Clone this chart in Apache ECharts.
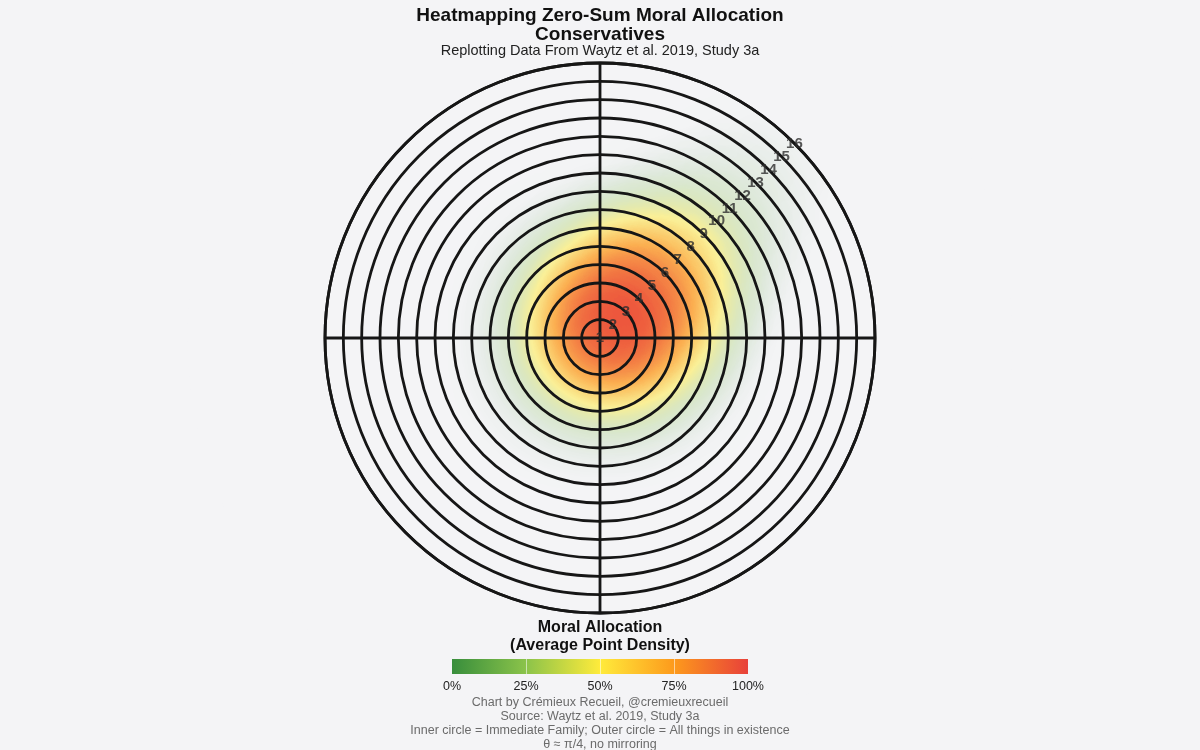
<!DOCTYPE html>
<html>
<head>
<meta charset="utf-8">
<script src="https://cdn.jsdelivr.net/npm/echarts@6/dist/echarts.min.js"></script>
<style>
  html, body { margin: 0; padding: 0; background: #f4f4f6; }
  #chart { width: 1200px; height: 750px; }
</style>
</head>
<body>
<div id="chart"></div>
<script>
// ---------- data ----------
const TITLE = 'Heatmapping Zero-Sum Moral Allocation';
const GROUP = 'Conservatives';
const SUBTITLE = 'Replotting Data From Waytz et al. 2019, Study 3a';
const LEGEND_TITLE = ['Moral Allocation', '(Average Point Density)'];
const LEVELS = [1, 2, 3, 4, 5, 6, 7, 8, 9, 10, 11, 12, 13, 14, 15, 16];
// average points allocated to each moral circle
const ALLOCATION = [17, 23, 22, 13.5, 7.5, 5, 3.5, 2.6, 1.8, 1.3, 0.9, 0.7, 0.5, 0.35, 0.25, 0.2];
const THETA_DEG = 45;   // all points placed at theta = pi/4
const LEGEND_TICKS = [0, 25, 50, 75, 100];
const PALETTE = ['#388E3C', '#8BC34A', '#FFEB3B', '#FD9A1C', '#E8413A'];
const CAPTIONS = [
  'Chart by Crémieux Recueil, @cremieuxrecueil',
  'Source: Waytz et al. 2019, Study 3a',
  'Inner circle = Immediate Family; Outer circle = All things in existence',
  'θ ≈ π/4, no mirroring'
];

// ---------- layout ----------
const BG = '#f4f4f6';
const FONT = 'Liberation Sans, Arial, Helvetica, sans-serif';
const CX = 600, CY = 338, R = 275;
const LINE = '#161616';

const minLevel = LEVELS[0], maxLevel = LEVELS[LEVELS.length - 1];
const span = maxLevel - minLevel;

// a square "map" that spans the polar disc, used as a canvas for the density layer
echarts.registerMap('disc', {
  type: 'FeatureCollection',
  features: [{
    type: 'Feature', properties: { name: 'disc' },
    geometry: { type: 'Polygon', coordinates: [[[-span, -span], [span, -span], [span, span], [-span, span], [-span, -span]]] }
  }]
});

const t = THETA_DEG * Math.PI / 180;
const heatData = LEVELS.map((lv, i) => [(lv - minLevel) * Math.sin(t), (lv - minLevel) * Math.cos(t), ALLOCATION[i]]);
const labelData = LEVELS.map(lv => [lv, THETA_DEG]);

const chart = echarts.init(document.getElementById('chart'), null, { renderer: 'canvas' });

const option = {
  backgroundColor: BG,
  animation: false,
  textStyle: { fontFamily: FONT },
  title: [
    {
      text: TITLE + '\n' + GROUP, left: 'center', top: 6, padding: 0, z: 20,
      textStyle: { fontFamily: FONT, fontSize: 19, fontWeight: 'bold', color: '#111', lineHeight: 19.5, align: 'center' }
    },
    {
      text: SUBTITLE, left: 'center', top: 43, padding: 0, z: 20,
      textStyle: { fontFamily: FONT, fontSize: 14.5, fontWeight: 'normal', color: '#222' }
    },
    {
      text: LEGEND_TITLE.join('\n'), left: 'center', top: 619, padding: 0, z: 20,
      textStyle: { fontFamily: FONT, fontSize: 16, fontWeight: 'bold', color: '#111', lineHeight: 18, align: 'center' }
    },
    {
      text: CAPTIONS.join('\n'), left: 'center', top: 696, padding: 0, z: 20,
      textStyle: { fontFamily: FONT, fontSize: 12.5, fontWeight: 'normal', color: '#6b6b6b', lineHeight: 13.8, align: 'center' }
    }
  ],
  geo: {
    map: 'disc', roam: false, silent: true, aspectScale: 1,
    layoutCenter: [CX, CY], layoutSize: 2 * R,
    itemStyle: { areaColor: 'rgba(0,0,0,0)', borderColor: 'rgba(0,0,0,0)', borderWidth: 0 },
    emphasis: { disabled: true },
    label: { show: false },
    z: 0
  },
  visualMap: {
    type: 'continuous', show: false, seriesIndex: 0,
    min: 0, max: Math.max(...ALLOCATION),
    inRange: { color: PALETTE }
  },
  polar: { center: [CX, CY], radius: R },
  angleAxis: {
    type: 'value', min: 0, max: 360, interval: 90, startAngle: 90, clockwise: true, z: 10,
    axisLine: { show: true, lineStyle: { color: LINE, width: 2.8 } },
    axisTick: { show: false }, axisLabel: { show: false },
    splitLine: { show: true, lineStyle: { color: LINE, width: 2.8 } }
  },
  radiusAxis: {
    type: 'value', min: minLevel, max: maxLevel, interval: 1, z: 10,
    axisLine: { show: false }, axisTick: { show: false }, axisLabel: { show: false },
    splitLine: { show: true, lineStyle: { color: LINE, width: 2.8 } }
  },
  grid: {
    left: 452, width: 296, top: 659, height: 15, show: true, z: 20,
    borderWidth: 0,
    backgroundColor: new echarts.graphic.LinearGradient(0, 0, 1, 0,
      PALETTE.map((c, i) => ({ offset: i / (PALETTE.length - 1), color: c })))
  },
  xAxis: {
    type: 'value', min: LEGEND_TICKS[0], max: LEGEND_TICKS[LEGEND_TICKS.length - 1],
    interval: LEGEND_TICKS[1] - LEGEND_TICKS[0], z: 20,
    axisLine: { show: false }, axisTick: { show: false },
    axisLabel: { formatter: '{value}%', fontFamily: FONT, fontSize: 12.5, color: '#222', margin: 6 },
    splitLine: { show: true, lineStyle: { width: 1, color: ['rgba(0,0,0,0)', 'rgba(255,255,255,0.55)', 'rgba(255,255,255,0.55)', 'rgba(255,255,255,0.55)', 'rgba(0,0,0,0)'] } }
  },
  yAxis: { type: 'value', min: 0, max: 1, show: false },
  graphic: [
    {
      type: 'ring', silent: true, z: 5,
      shape: { cx: CX, cy: CY, r0: R, r: R * 1.5 },
      style: { fill: BG }
    }
  ],
  series: [
    {
      type: 'heatmap', coordinateSystem: 'geo', geoIndex: 0,
      data: heatData, pointSize: 64, blurSize: 88, z: 2
    },
    {
      type: 'scatter', coordinateSystem: 'polar', data: labelData, symbolSize: 0, z: 30, silent: true,
      label: {
        show: true, position: 'inside', formatter: p => String(p.value[0]),
        fontFamily: FONT, fontSize: 15, fontWeight: 'bold', color: '#2e2e2e'
      }
    }
  ]
};

chart.setOption(option);
</script>
</body>
</html>
